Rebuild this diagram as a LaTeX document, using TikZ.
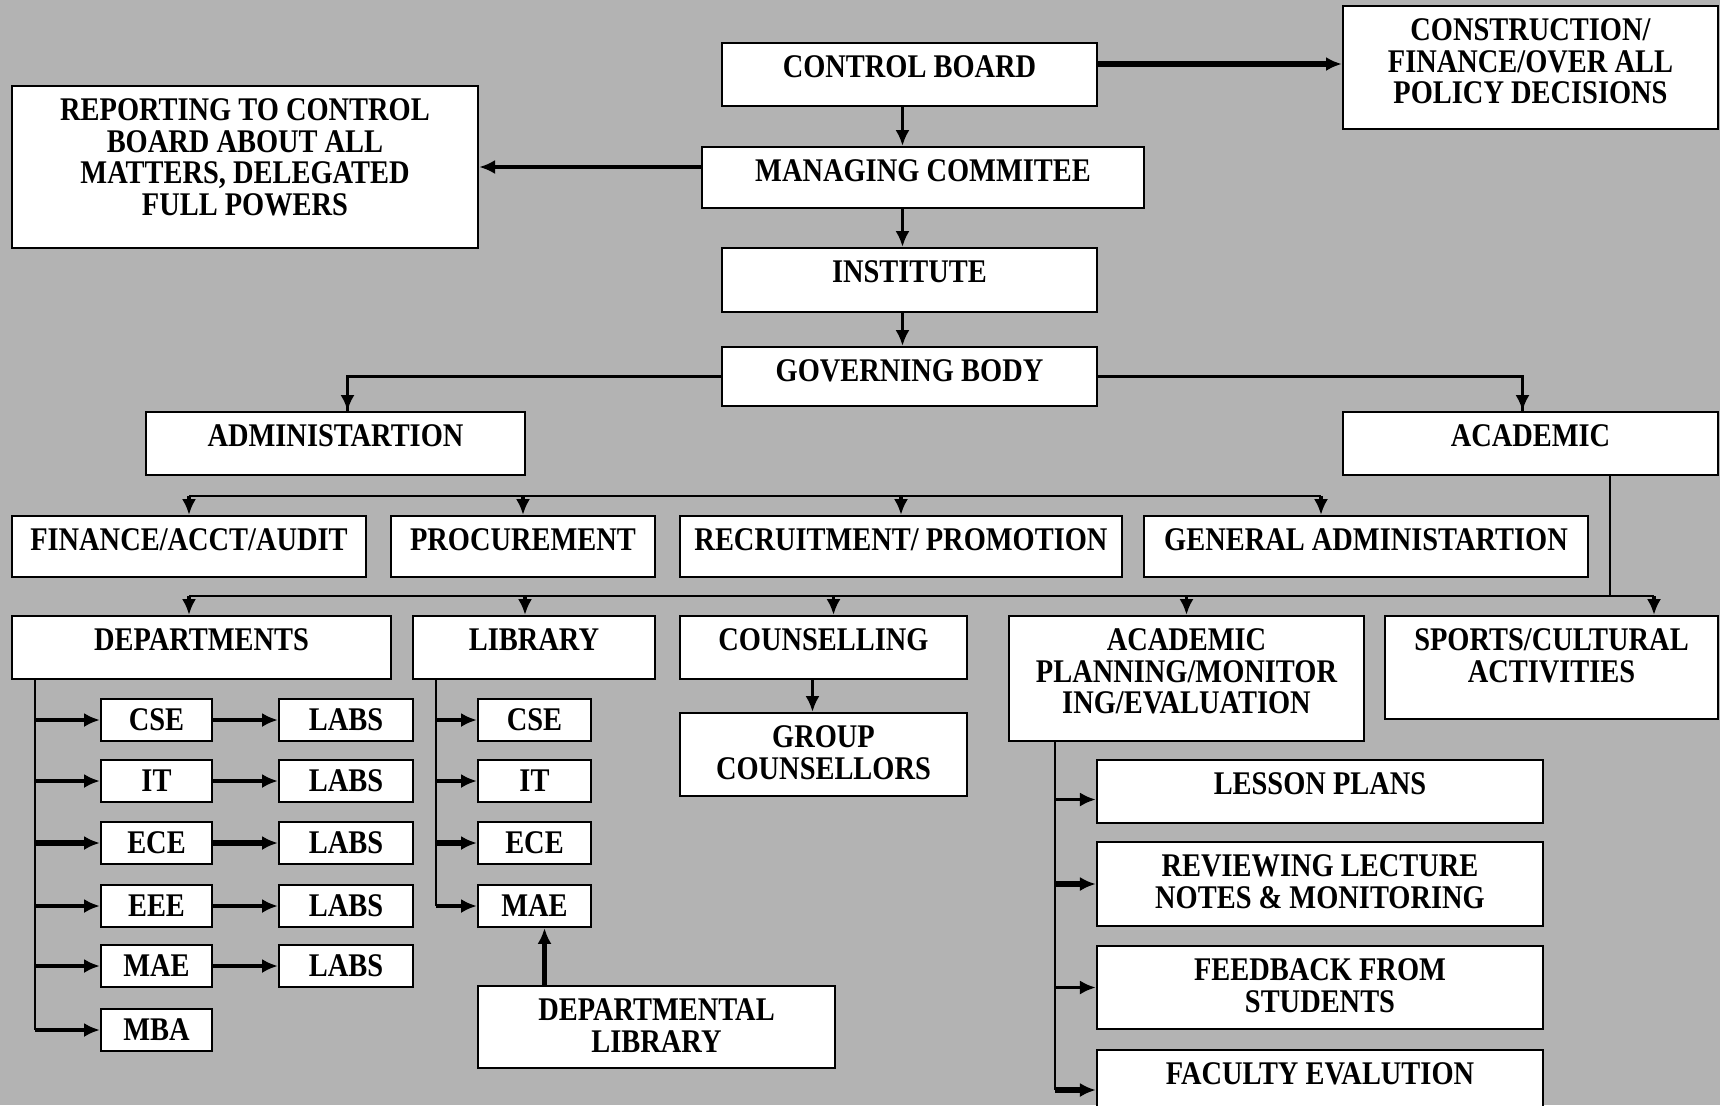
\documentclass[tikz,border=0pt]{standalone}
\usepackage{fontspec}
\setmainfont{Liberation Serif}[FakeStretch=0.86]
\usetikzlibrary{arrows.meta}

\definecolor{sheet}{RGB}{179,179,179}

\begin{document}
\begin{tikzpicture}[x=0.01cm, y=-0.01cm,
	font=\fontsize{9.4}{9}\selectfont\bfseries,
	box/.style={draw, fill=white, line width=0.6pt, inner sep=0pt},
	head/.style={anchor=north, yshift=-0.13cm, align=center, inner sep=0pt},
	cell/.style={box, minimum width=1.11cm, minimum height=0.42cm},
	wire/.style={line width=0.6pt},
	arr/.style={-{Latex[length=4.5pt,width=4pt]}, line width=0.9pt},
	fat/.style={line width=1.5pt}]

	\useasboundingbox (0, 0) rectangle (1720, 1105);
	\fill[sheet] (0, 0) rectangle (1720, 1105);

	% top of the chart
	\node[box, minimum width=3.75cm, minimum height=0.63cm, label={[head]north:CONTROL BOARD}] (cb) at (909.5, 74.5) {};
	\node[box, minimum width=3.75cm, minimum height=1.23cm, label={[head]north:CONSTRUCTION/\\FINANCE/OVER ALL\\POLICY DECISIONS}] (cons) at (1530.5, 67.5) {};
	\node[box, minimum width=4.66cm, minimum height=1.62cm, label={[head]north:REPORTING TO CONTROL\\BOARD ABOUT ALL\\MATTERS, DELEGATED\\FULL POWERS}] (rep) at (245, 167) {};
	\node[box, minimum width=4.42cm, minimum height=0.61cm, label={[head]north:MANAGING COMMITEE}] (mc) at (923, 177.5) {};
	\node[box, minimum width=3.75cm, minimum height=0.64cm, label={[head]north:INSTITUTE}] (inst) at (909.5, 280) {};
	\node[box, minimum width=3.75cm, minimum height=0.59cm, label={[head]north:GOVERNING BODY}] (gb) at (909.5, 376.5) {};
	\node[box, minimum width=3.79cm, minimum height=0.63cm, label={[head]north:ADMINISTARTION}] (adm) at (335.5, 443.5) {};
	\node[box, minimum width=3.75cm, minimum height=0.63cm, label={[head]north:ACADEMIC}] (acad) at (1530.5, 443.5) {};

	% administration row
	\node[box, minimum width=3.54cm, minimum height=0.61cm, label={[head]north:FINANCE/ACCT/AUDIT}] (fin) at (189, 546.5) {};
	\node[box, minimum width=2.64cm, minimum height=0.61cm, label={[head]north:PROCUREMENT}] (proc) at (523, 546.5) {};
	\node[box, minimum width=4.42cm, minimum height=0.61cm, label={[head]north:RECRUITMENT/ PROMOTION}] (recr) at (901, 546.5) {};
	\node[box, minimum width=4.44cm, minimum height=0.61cm, label={[head]north:GENERAL ADMINISTARTION}] (gen) at (1366, 546.5) {};

	% academic row
	\node[box, minimum width=3.79cm, minimum height=0.63cm, label={[head]north:DEPARTMENTS}] (dept) at (201.5, 647.5) {};
	\node[box, minimum width=2.42cm, minimum height=0.63cm, label={[head]north:LIBRARY}] (lib) at (534, 647.5) {};
	\node[box, minimum width=2.87cm, minimum height=0.63cm, label={[head]north:COUNSELLING}] (couns) at (823.5, 647.5) {};
	\node[box, minimum width=3.55cm, minimum height=1.25cm, label={[head]north:ACADEMIC\\PLANNING/MONITOR\\ING/EVALUATION}] (ap) at (1186.5, 678.5) {};
	\node[box, minimum width=3.33cm, minimum height=1.03cm, label={[head]north:SPORTS/CULTURAL\\ACTIVITIES}] (sports) at (1551.5, 667.5) {};
	\node[box, minimum width=2.87cm, minimum height=0.83cm, label={[head]north:GROUP\\COUNSELLORS}] (grp) at (823.5, 754.5) {};

	% departments and labs
	\node[cell] (dcse) at (156.5, 720) {CSE};
	\node[cell] (dit) at (156.5, 781) {IT};
	\node[cell] (dece) at (156.5, 843) {ECE};
	\node[cell] (deee) at (156.5, 906) {EEE};
	\node[cell] (dmae) at (156.5, 966) {MAE};
	\node[cell] (dmba) at (156.5, 1030) {MBA};
	\node[cell, minimum width=1.34cm] (labcse) at (346, 720) {LABS};
	\node[cell, minimum width=1.34cm] (labit) at (346, 781) {LABS};
	\node[cell, minimum width=1.34cm] (labece) at (346, 843) {LABS};
	\node[cell, minimum width=1.34cm] (labeee) at (346, 906) {LABS};
	\node[cell, minimum width=1.34cm] (labmae) at (346, 966) {LABS};

	% library sections
	\node[cell, minimum width=1.13cm] (lcse) at (534.5, 720) {CSE};
	\node[cell, minimum width=1.13cm] (lit) at (534.5, 781) {IT};
	\node[cell, minimum width=1.13cm] (lece) at (534.5, 843) {ECE};
	\node[cell, minimum width=1.13cm] (lmae) at (534.5, 906) {MAE};
	\node[box, minimum width=3.57cm, minimum height=0.82cm, label={[head]north:DEPARTMENTAL\\LIBRARY}] (dl) at (656.5, 1027) {};

	% planning tasks
	\node[box, minimum width=4.46cm, minimum height=0.63cm, label={[head]north:LESSON PLANS}] (lp) at (1320, 791.5) {};
	\node[box, minimum width=4.46cm, minimum height=0.84cm, label={[head]north:REVIEWING LECTURE\\NOTES \& MONITORING}] (rev) at (1320, 884) {};
	\node[box, minimum width=4.46cm, minimum height=0.83cm, label={[head]north:FEEDBACK FROM\\STUDENTS}] (fb) at (1320, 987.5) {};
	\node[box, minimum width=4.46cm, minimum height=0.80cm, label={[head]north:FACULTY EVALUTION}] (fac) at (1320, 1090) {};

	% main line
	\draw[arr, line width=1.6pt] ([yshift=0.035cm]cons.west -| cb.east) -- ([yshift=0.035cm]cons.west);
	\draw[arr] ([xshift=-0.07cm]cb.south) -- ([xshift=-0.07cm]cb.south |- mc.north);
	\draw[arr] (rep.east -| mc.west) -- (rep.east);
	\draw[arr] ([xshift=-0.07cm]inst.north |- mc.south) -- ([xshift=-0.07cm]inst.north);
	\draw[arr] ([xshift=-0.07cm]inst.south) -- ([xshift=-0.07cm]gb.north);
	\draw[wire] (gb.west) -| ([xshift=0.12cm]adm.north);
	\draw[arr] ([xshift=0.12cm]adm.north |- gb.west) -- ([xshift=0.12cm]adm.north);
	\draw[wire] (gb.east) -| ([xshift=-0.08cm]acad.north);
	\draw[arr] ([xshift=-0.08cm]acad.north |- gb.east) -- ([xshift=-0.08cm]acad.north);

	% first bus
	\coordinate (bus1l) at (189, 496);
	\coordinate (bus1r) at (1321, 496);
	\draw[wire] (bus1l) -- (bus1r);
	\draw[arr] (bus1l) -- (fin.north);
	\draw[arr] (proc.north |- bus1l) -- (proc.north);
	\draw[arr] (recr.north |- bus1l) -- (recr.north);
	\draw[arr] (bus1r) -- (bus1r |- gen.north);

	% second bus
	\coordinate (bus2l) at (189, 596);
	\coordinate (bus2r) at (1654, 596);
	\coordinate (acadj) at (1610, 596);
	\draw[wire] (bus2l) -- (bus2r);
	\draw[wire] (acadj |- acad.south) -- (acadj);
	\draw[arr] (bus2l) -- (bus2l |- dept.north);
	\draw[arr] ([xshift=-0.09cm]lib.north |- bus2l) -- ([xshift=-0.09cm]lib.north);
	\draw[arr] ([xshift=0.1cm]couns.north |- bus2l) -- ([xshift=0.1cm]couns.north);
	\draw[arr] (ap.north |- bus2l) -- (ap.north);
	\draw[arr] (bus2r) -- (bus2r |- sports.north);
	\draw[arr] ([xshift=-0.11cm]couns.south) -- ([xshift=-0.11cm]couns.south |- grp.north);

	% departments
	\coordinate (dtrunk) at (35, 679);
	\draw[wire] (dtrunk) -- (dtrunk |- dmba.west);
	\draw[arr] (dtrunk |- dcse.west) -- (dcse.west);
	\draw[arr] (dtrunk |- dit.west) -- (dit.west);
	\draw[arr, fat] (dtrunk |- dece.west) -- (dece.west);
	\draw[arr] (dtrunk |- deee.west) -- (deee.west);
	\draw[arr] (dtrunk |- dmae.west) -- (dmae.west);
	\draw[arr] (dtrunk |- dmba.west) -- (dmba.west);
	\draw[arr] (dcse) -- (labcse);
	\draw[arr] (dit) -- (labit);
	\draw[arr, fat] (dece) -- (labece);
	\draw[arr] (deee) -- (labeee);
	\draw[arr] (dmae) -- (labmae);

	% library
	\coordinate (ltrunk) at (436, 679);
	\draw[wire] (ltrunk) -- (ltrunk |- lmae.west);
	\draw[arr] (ltrunk |- lcse.west) -- (lcse.west);
	\draw[arr] (ltrunk |- lit.west) -- (lit.west);
	\draw[arr, fat] (ltrunk |- lece.west) -- (lece.west);
	\draw[arr] (ltrunk |- lmae.west) -- (lmae.west);
	\draw[arr, line width=1.2pt] ([xshift=0.1cm]lmae.south |- dl.north) -- ([xshift=0.1cm]lmae.south);

	% academic planning
	\coordinate (atrunk) at (1055, 741);
	\draw[wire] (atrunk) -- (atrunk |- fac.west);
	\draw[arr] ([yshift=-0.08cm]atrunk |- lp.west) -- ([yshift=-0.08cm]lp.west);
	\draw[arr, fat] (atrunk |- rev.west) -- (rev.west);
	\draw[arr] (atrunk |- fb.west) -- (fb.west);
	\draw[arr, fat] (atrunk |- fac.west) -- (fac.west);

\end{tikzpicture}
\end{document}
